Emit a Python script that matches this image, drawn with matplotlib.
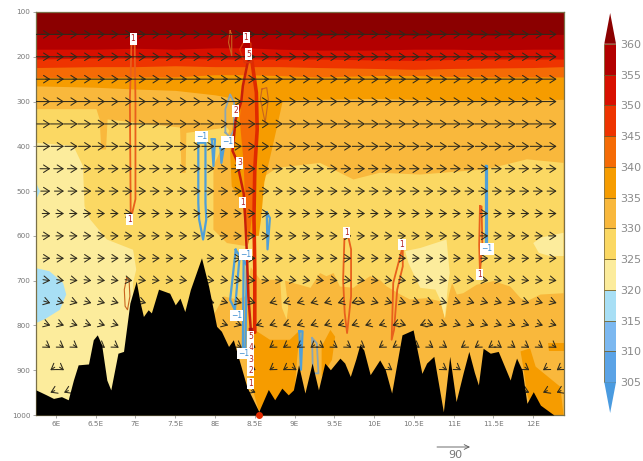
import numpy as np
from matplotlib import pyplot as plt

# colour for each 5 K class, coldest to warmest
LEVELS = [305, 310, 315, 320, 325, 330, 335, 340, 345, 350, 355, 360]
COLORS = ['#4a9be0', '#5ba3e6', '#7cb8f0', '#a8dff5', '#fcec9c', '#fbd863', '#f9b83c',
          '#f69c00', '#f56b05', '#ee3400', '#d81000', '#b30000', '#8b0000']

# upper level theta surfaces, pressure against longitude
BAND_LON = [5.75, 6.5, 7, 7.5, 8, 8.4, 8.8, 9.3, 10, 10.5, 11, 11.5, 12, 12.38]
P_335 = [265, 268, 272, 275, 285, 298, 298, 295, 293, 295, 297, 298, 296, 295]
P_340 = [246, 246, 245, 245, 240, 240, 242, 245, 242, 242, 244, 245, 245, 245]
P_345 = [224, 222, 222, 220, 222, 222, 222, 224, 226, 228, 226, 225, 224, 222]
P_350 = [205, 203, 203, 203, 205, 205, 205, 205, 207, 208, 206, 205, 205, 205]
P_355 = [183, 183, 181, 183, 180, 180, 183, 185, 185, 183, 183, 185, 183, 183]
P_360 = [150, 150, 148, 150, 150, 150, 150, 152, 150, 152, 150, 152, 150, 150]

# 325-330 K area
AREA_325 = [(5.75, 317), (6.51, 317), (6.55, 340), (6.57, 407), (6.63, 407), (6.65, 340), (7.56, 358),
            (7.58, 459), (7.63, 459), (7.64, 370), (8.15, 358), (8.63, 466), (8.78, 448), (9.32, 437),
            (9.74, 474), (10.07, 459), (10.58, 463), (11.42, 451), (11.92, 429), (12.38, 437),
            (12.38, 728), (12.09, 731), (11.92, 746), (11.84, 739), (11.71, 713), (11.5, 701),
            (11.29, 709), (11.12, 728), (11.04, 731), (10.98, 705), (10.94, 731), (10.89, 784),
            (10.83, 746), (10.66, 739), (10.45, 742), (10.33, 731), (10.16, 713), (10.07, 698),
            (9.95, 690), (9.82, 705), (9.74, 716), (9.57, 713), (9.49, 683), (9.4, 690), (9.32, 683),
            (9.2, 716), (8.98, 705), (8.88, 700), (8.92, 760), (8.9, 787), (8.84, 760), (8.82, 698),
            (8.57, 698), (8.45, 670), (8.38, 735), (8.27, 742), (8.11, 735), (8.02, 765), (7.9, 800),
            (7, 900), (5.75, 1000)]
# 320-325 K areas
AREA_320 = [(5.75, 392), (6.22, 399), (6.34, 444), (6.36, 534), (6.43, 563), (6.64, 608), (6.97, 631),
            (7.01, 675), (6.97, 705), (7, 950), (5.75, 1000)]
PATCH_320A = [(10.39, 634), (10.58, 627), (10.91, 608), (10.95, 683), (10.93, 705), (10.89, 784),
              (10.83, 743), (10.77, 720), (10.58, 716), (10.49, 683), (10.43, 660)]
PATCH_320B = [(12, 616), (12.09, 604), (12.38, 593), (12.38, 645), (12.21, 645), (12.07, 638)]
# 315-320 K pockets at the left edge
POCKET_315A = [(5.75, 672), (5.92, 679), (6.09, 705), (6.13, 731), (6.05, 765), (5.88, 784), (5.75, 795)]
POCKET_315B = [(5.75, 481), (5.8, 500), (5.75, 520)]
# warmer areas around the plume and near the ground
BLOB_330 = [(7.98, 444), (8.19, 362), (8.61, 370), (8.63, 466), (8.48, 586), (8.4, 623), (8.15, 616), (7.98, 586)]
WEDGE_335 = [(8.55, 290), (8.85, 300), (8.75, 380), (8.62, 480), (8.58, 560), (8.55, 600), (8.4, 600),
             (8.34, 526), (8.21, 489), (8.19, 414), (8.25, 300)]
PLUME_340 = [(8.42, 213), (8.35, 265), (8.31, 340), (8.36, 437), (8.38, 534), (8.42, 620), (8.48, 534),
             (8.49, 437), (8.52, 340), (8.52, 265), (8.46, 213)]
LOW_335A = [(8.5, 810), (8.69, 832), (8.94, 832), (9.07, 810), (9.03, 877), (9, 950), (8.55, 990), (8.44, 922)]
LOW_335B = [(9.34, 847), (9.45, 810), (9.51, 825), (9.47, 877), (9.34, 914)]
LOW_335C = [(11.84, 858), (11.96, 851), (12.03, 892), (12.34, 937), (12.38, 1000), (12, 1000), (11.92, 951), (11.88, 899)]
LOW_335D = [(12.19, 840), (12.38, 840), (12.38, 858), (12.2, 858)]

# ground profile
TERRAIN_LON = [5.75, 5.88, 5.97, 6.07, 6.155, 6.22, 6.28, 6.41, 6.47, 6.52, 6.575, 6.64, 6.69, 6.78, 6.85, 6.93,
               7.01, 7.06, 7.1, 7.16, 7.2, 7.29, 7.43, 7.5, 7.56, 7.62, 7.69, 7.83, 7.92, 8.02, 8.08, 8.17,
               8.23, 8.29, 8.4, 8.55, 8.67, 8.75, 8.84, 8.92, 8.985, 9.05, 9.13, 9.22, 9.3, 9.38, 9.45,
               9.57, 9.63, 9.7, 9.77, 9.82, 9.87, 9.95, 10.07, 10.14, 10.22, 10.35, 10.49, 10.6, 10.66, 10.75,
               10.87, 10.95, 11.03, 11.12, 11.19, 11.26, 11.31, 11.37, 11.46, 11.56, 11.71, 11.75, 11.79, 11.86,
               11.92, 12, 12.09, 12.26, 12.38]
TERRAIN_P = [944, 955, 963, 959, 966, 922, 888, 886, 832, 821, 843, 922, 944, 862, 858, 750,
             701, 750, 780, 765, 772, 719, 728, 754, 739, 769, 720, 649, 713, 802, 813, 847,
             832, 869, 937, 992, 943, 966, 940, 955, 944, 888, 951, 884, 944, 884, 899,
             873, 884, 914, 875, 843, 855, 910, 877, 899, 951, 821, 810, 907, 884, 869,
             993, 869, 970, 905, 858, 905, 933, 851, 862, 858, 922, 895, 873, 900,
             974, 948, 978, 1000, 1000]

# wind: one speed per pressure level, sign flipped inside the listed ranges
WIND_P = [150, 200, 250, 300, 350, 400, 450, 500, 550, 600, 650, 700, 750, 800, 850, 900, 950]
WIND_U = [62, 58, 50, 40, 37, 35, 28, 26, 22, 22, 20, 20, 18, 16, 12, 12, 12]
WIND_W = [0, 0, 0, 0, 0, 0, 0, 0, 0, 0, 0, 1, 2, 2, 3, 3, 2]
WIND_REVERSED = {750: [(8.6, 9.75)], 800: [(8.5, 10.3), (10.55, 10.7)], 850: [(8.6, 9.3), (9.9, 10.45), (11, 11.45)],
                 900: [(5.9, 6.05), (8.55, 9), (12.1, 12.3)], 950: [(5.8, 6.2), (8.6, 8.9), (12, 12.3)]}

# closed contour lines of the vertical motion field
RED_LEFT = [(8.42, 205), (8.35, 265), (8.33, 300), (8.26, 340), (8.22, 410), (8.27, 430), (8.36, 505), (8.38, 563),
            (8.4, 638), (8.42, 735), (8.45, 810), (8.46, 900)]
RED_RIGHT = [(8.46, 205), (8.52, 280), (8.53, 362), (8.5, 451), (8.49, 556), (8.49, 563), (8.5, 675), (8.5, 815), (8.45, 815)]
RED_TOP = [(8.39, 157), (8.31, 184), (8.37, 213), (8.46, 213), (8.45, 170), (8.39, 157)]
ORANGE_LINES = [
    [(6.95, 172), (6.93, 295), (6.94, 549), (6.95, 556), (7, 518), (7, 295), (6.99, 172)],
    [(9.63, 586), (9.61, 698), (9.63, 772), (9.66, 817), (9.71, 735), (9.71, 630), (9.66, 590)],
    [(10.35, 630), (10.24, 705), (10.22, 832), (10.25, 810), (10.29, 720), (10.36, 668), (10.36, 630)],
    [(11.33, 534), (11.32, 620), (11.33, 680), (11.36, 620), (11.35, 534)],
]
FAINT_LINES = [
    [(6.89, 694), (6.86, 720), (6.87, 757), (6.9, 765), (6.93, 735), (6.92, 698)],
    [(8.19, 142), (8.17, 168), (8.21, 198), (8.21, 150)],
    [(8.59, 272), (8.57, 295), (8.63, 347), (8.67, 295), (8.65, 269)],
]
BLUE_LINES = [
    [(7.79, 392), (7.79, 526), (7.8, 563), (7.85, 608), (7.89, 563), (7.88, 526), (7.88, 392)],
    [(7.96, 384), (7.98, 444), (8, 384)],
    [(8.07, 403), (8.08, 437), (8.11, 403)],
    [(8.65, 548), (8.66, 630), (8.69, 560)],
    [(8.26, 631), (8.19, 743), (8.25, 765), (8.31, 645)],
    [(8.36, 653), (8.35, 847), (8.38, 862), (8.4, 667)],
    [(9.06, 813), (9.08, 899), (9.1, 813)],
    [(11.4, 444), (11.4, 620), (11.42, 620), (11.42, 444)],
]
GREY_LINES = [
    [(8.13, 369), (8.13, 317), (8.19, 284), (8.24, 302), (8.24, 362), (8.19, 380)],
    [(9.22, 828), (9.23, 907), (9.3, 907), (9.28, 840)],
]
RED_LABELS = [(6.97, 160, '1'), (8.39, 157, '1'), (8.42, 194, '5'), (8.26, 321, '2'), (8.31, 437, '3'),
              (8.35, 526, '1'), (6.93, 563, '1'), (8.45, 825, '5'), (8.45, 849, '4'), (8.45, 875, '3'),
              (8.45, 901, '2'), (8.45, 929, '1'), (10.35, 619, '1'), (9.65, 593, '1'), (11.33, 687, '1')]
BLUE_LABELS = [(7.83, 378), (8.155, 390), (8.38, 642), (8.27, 778), (8.36, 863), (11.42, 629)]

TEXT_GREY = '#777777'
W, H = 643, 461

fig = plt.figure(figsize=(W / 100, H / 100), dpi=100)
ax = fig.add_axes([36 / W, 1 - 415 / H, 527.5 / W, 403 / H])
ax.set_xlim(5.75, 12.38)
ax.set_ylim(1000, 100)
ax.set_facecolor(COLORS[6])


def area(points, color, z=1):
    ax.fill(*zip(*points), color=color, lw=0, zorder=z)


area(AREA_325, COLORS[5])
area(BLOB_330, COLORS[6])
area(AREA_320, COLORS[4])
area(PATCH_320A, COLORS[4])
area(PATCH_320B, COLORS[4])
area(POCKET_315A, COLORS[3])
area(POCKET_315B, COLORS[3])
for low in (LOW_335A, LOW_335B, LOW_335C, LOW_335D):
    area(low, COLORS[7])
area(WEDGE_335, COLORS[7])

for i, surface in enumerate([P_335, P_340, P_345, P_350, P_355, P_360]):
    ax.fill_between(BAND_LON, 100, surface, color=COLORS[7 + i], lw=0, zorder=2)
area(PLUME_340, COLORS[8], z=3)


def line(points, color, lw, closed=True, z=4):
    pts = list(points) + [points[0]] if closed else points
    ax.plot(*zip(*pts), color=color, lw=lw, zorder=z, solid_joinstyle='round')


for pts in ORANGE_LINES:
    line(pts, '#e8601c', 1.3)
for pts in FAINT_LINES:
    line(pts, '#c8641e', 0.8)
for pts in BLUE_LINES:
    line(pts, '#4f9fd8', 1.6)
for pts in GREY_LINES:
    line(pts, '#8ba6b4', 1.3)
line(RED_LEFT, '#c81e0a', 1.8, closed=False)
line(RED_RIGHT, '#e02a00', 2.6, closed=False)
line(RED_TOP, '#d8340a', 1.0, closed=False)
ax.plot([8.45, 8.46], [810, 905], color='#a80f14', lw=3, zorder=4)
ax.plot(8.55, 1000, 'o', color='#e02a00', ms=4, zorder=7, clip_on=False)

# wind arrows, nothing below ground
wind_lon = np.arange(5.93, 12.35, 0.172)
for p, u, w in zip(WIND_P, WIND_U, WIND_W):
    for lon in wind_lon:
        if p > np.interp(lon, TERRAIN_LON, TERRAIN_P) - 8:
            continue
        sign = 1
        for lo, hi in WIND_REVERSED.get(p, []):
            if lo <= lon <= hi:
                sign = -1
        # 90 units are 33 px long
        dx = sign * u * 33 / 90 * 0.72
        arrow = ax.annotate('', xy=(lon, p), xytext=(-dx, w * 0.72), textcoords='offset points', zorder=5,
                            arrowprops=dict(arrowstyle='->,head_width=0.27,head_length=0.42', lw=0.75,
                                            color='#2e2a1c', shrinkA=0, shrinkB=0))
        arrow.arrow_patch.set_clip_box(ax.bbox)
        arrow.arrow_patch.set_clip_on(True)

ax.fill_between(TERRAIN_LON, TERRAIN_P, 1000, color='black', lw=0, zorder=6)

for lon, p, txt in RED_LABELS:
    ax.text(lon, p, txt, fontsize=5.5, color='#b02020', ha='center', va='center', zorder=8,
            bbox=dict(facecolor='white', edgecolor='none', pad=0.8))
for lon, p in BLUE_LABELS:
    ax.text(lon, p, '\u22121', fontsize=5.5, color='#3f8fd0', ha='center', va='center', zorder=8,
            bbox=dict(facecolor='white', edgecolor='none', pad=0.8))

ax.set_xticks(np.arange(6, 12.5, 0.5))
ax.set_xticklabels(['6E', '6.5E', '7E', '7.5E', '8E', '8.5E', '9E', '9.5E', '10E', '10.5E', '11E', '11.5E', '12E'])
ax.set_yticks(np.arange(100, 1001, 100))
ax.tick_params(labelsize=5.2, labelcolor=TEXT_GREY, color='#999999', length=2, width=0.6, pad=2)
for spine in ax.spines.values():
    spine.set_color('#7a7048')
    spine.set_linewidth(0.9)

# vector key
key = fig.add_axes([0, 0, 1, 1], facecolor='none')
key.set_xlim(0, W)
key.set_ylim(H, 0)
key.axis('off')
key.annotate('', xy=(470, 447), xytext=(437, 447),
             arrowprops=dict(arrowstyle='->,head_width=0.17,head_length=0.35', lw=0.6, color='#555555', shrinkA=0, shrinkB=0))
key.text(455, 455, '90', fontsize=8, color='#777777', ha='center', va='center')

# colour bar
cax = fig.add_axes([604.3 / W, 1 - 413 / H, 11.7 / W, 400 / H])
cax.set_xlim(0, 1)
cax.set_ylim(300, 365)
for i in range(len(LEVELS) - 1):
    cax.bar(0.5, 5, width=1, bottom=LEVELS[i], color=COLORS[i + 1], edgecolor='#6e5a20', lw=0.5)
cax.fill([0, 1, 0.5], [360, 360, 365], color=COLORS[-1], lw=0)
cax.fill([0, 1, 0.5], [305, 305, 300], color=COLORS[0], lw=0)
for spine in cax.spines.values():
    spine.set_visible(False)
cax.set_xticks([])
cax.yaxis.tick_right()
cax.set_yticks(LEVELS)
cax.tick_params(axis='y', length=0, labelsize=8, labelcolor='#8a8a8a', pad=3)

plt.savefig('out.png', dpi=100)
